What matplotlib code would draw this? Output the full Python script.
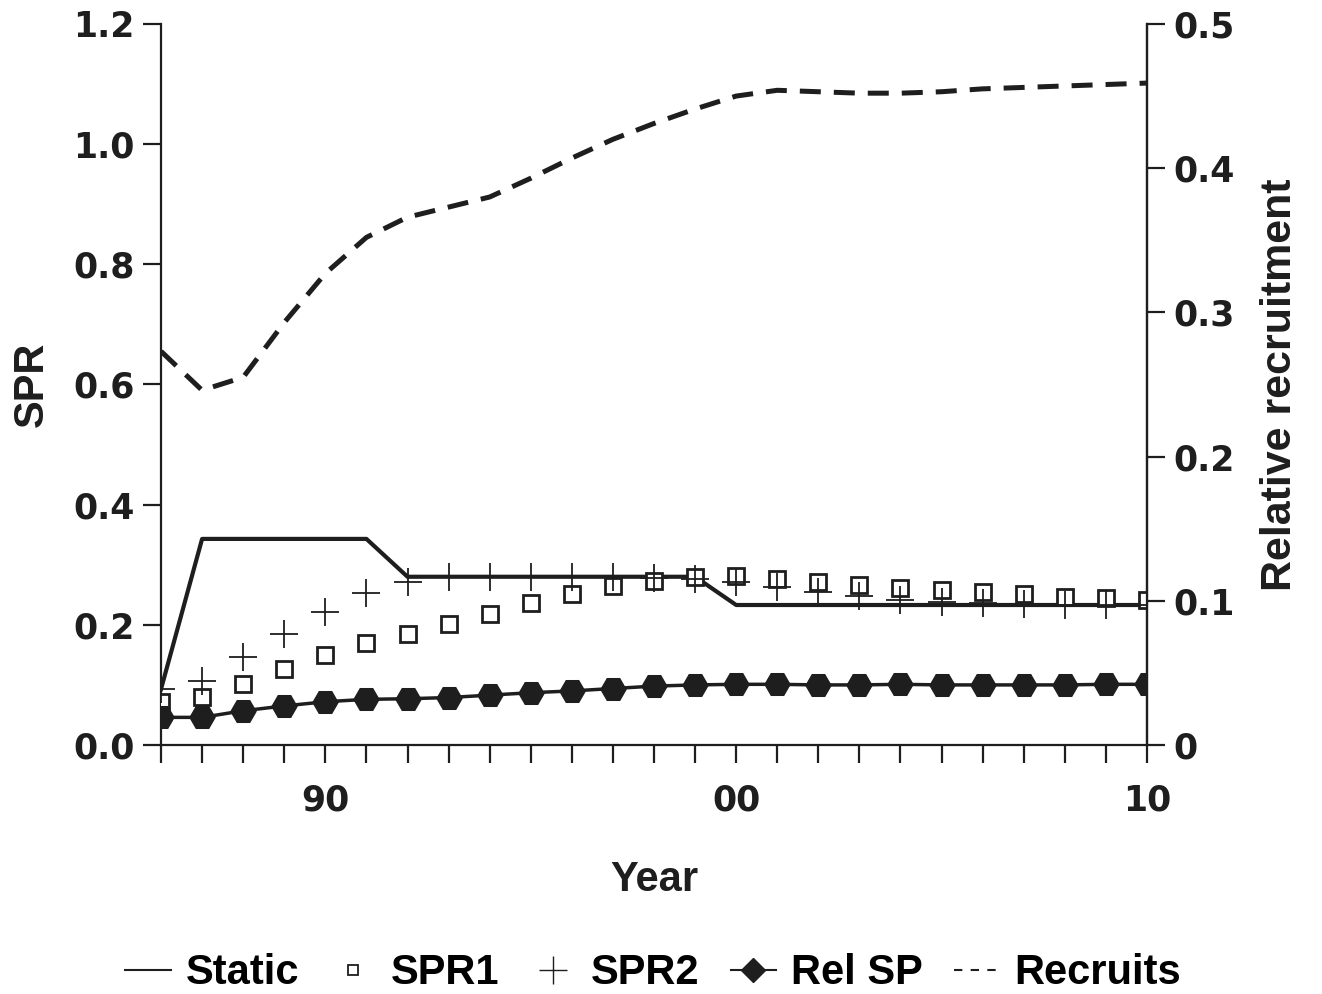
import matplotlib.pyplot as plt
from matplotlib.lines import Line2D

plt.rcParams["font.family"] = ["Liberation Sans", "DejaVu Sans"]
plt.rcParams["font.weight"] = "bold"

years = list(range(1986, 2011))

static = [0.093, 0.343, 0.343, 0.343, 0.343, 0.343,
          0.280, 0.280, 0.280, 0.280, 0.280, 0.280, 0.280, 0.280,
          0.233, 0.233, 0.233, 0.233, 0.233, 0.233, 0.233, 0.233, 0.233, 0.233, 0.233]

spr1 = [0.072, 0.080, 0.102, 0.127, 0.149, 0.169, 0.185, 0.201, 0.218, 0.237,
        0.252, 0.264, 0.273, 0.279, 0.282, 0.276, 0.271, 0.266, 0.262, 0.258,
        0.254, 0.251, 0.246, 0.244, 0.242]

spr2 = [0.093, 0.107, 0.147, 0.185, 0.222, 0.253, 0.272, 0.279, 0.279, 0.279,
        0.279, 0.279, 0.278, 0.277, 0.272, 0.263, 0.255, 0.248, 0.242, 0.238,
        0.236, 0.234, 0.233, 0.233, 0.233]

rel_sp = [0.046, 0.046, 0.057, 0.065, 0.072, 0.076, 0.077, 0.079, 0.083, 0.087,
          0.090, 0.094, 0.098, 0.100, 0.101, 0.101, 0.100, 0.100, 0.101, 0.100,
          0.100, 0.100, 0.100, 0.101, 0.101]

recruits = [0.273, 0.246, 0.255, 0.293, 0.327, 0.352, 0.366, 0.373, 0.380, 0.393,
            0.407, 0.420, 0.431, 0.441, 0.450, 0.454, 0.453, 0.452, 0.452, 0.453,
            0.455, 0.456, 0.457, 0.458, 0.459]

ink = "#1e1e1e"
tick_font = {"family": "DejaVu Sans", "weight": "bold", "size": 25}

fig = plt.figure(figsize=(13.22, 9.94), dpi=100)
ax = fig.add_axes([0.1218, 0.2505, 0.7458, 0.7254])
ax2 = ax.twinx()

ax.plot(years, static, color=ink, lw=3.0, zorder=3)
ax.plot(years, spr1, ls="none", marker="s", ms=11.5, mfc="white", mec=ink, mew=2.0, zorder=4)
ax.plot(years, spr2, ls="none", marker="+", ms=20, mec=ink, mew=1.3, zorder=4)
ax.plot(years, rel_sp, color=ink, lw=2.5, marker="H", ms=18, mfc=ink, mec=ink, zorder=5)
ax2.plot(years, recruits, color=ink, lw=3.6, dashes=(4.2, 2.6))

ax.set_xlim(1986, 2010)
ax.set_ylim(0, 1.2)
ax2.set_ylim(0, 0.5)

ax.set_xticks(years)
ax.set_xticklabels(["90" if y == 1990 else "00" if y == 2000 else "10" if y == 2010 else "" for y in years],
                   fontdict=tick_font)
ax.set_yticks([0, 0.2, 0.4, 0.6, 0.8, 1.0, 1.2])
ax.set_yticklabels(["0.0", "0.2", "0.4", "0.6", "0.8", "1.0", "1.2"], fontdict=tick_font)
ax2.set_yticks([0, 0.1, 0.2, 0.3, 0.4, 0.5])
ax2.set_yticklabels(["0", "0.1", "0.2", "0.3", "0.4", "0.5"], fontdict=tick_font)

for a in (ax, ax2):
    a.spines["top"].set_visible(False)
    for s in a.spines.values():
        s.set_linewidth(1.6)
        s.set_color(ink)
    a.tick_params(length=13, width=1.6, color=ink, labelcolor=ink, pad=6)
ax.tick_params(axis="x", pad=15)
ax2.spines["left"].set_visible(False)
ax2.spines["bottom"].set_visible(False)

ax.set_xlabel("Year", fontsize=30, fontweight="bold", color=ink, labelpad=30)
ax.set_ylabel("SPR", fontsize=30, fontweight="bold", color=ink, labelpad=15)
ax2.set_ylabel("Relative recruitment", fontsize=31, fontweight="bold", color=ink, labelpad=18)

handles = [
    Line2D([], [], color=ink, lw=1.5),
    Line2D([], [], ls="none", marker="s", ms=7, mfc="white", mec=ink, mew=1.3),
    Line2D([], [], ls="none", marker="+", ms=20, mec=ink, mew=1.0),
    Line2D([], [], color=ink, lw=1.5, marker="D", ms=12, mfc=ink, mec=ink),
    Line2D([], [], color=ink, lw=1.5, dashes=(4, 4)),
]
labels = ["Static", "SPR1", "SPR2", "Rel SP", "Recruits"]
fig.legend(handles, labels, loc="center", bbox_to_anchor=(0.494, 0.021), ncol=5,
           frameon=False, fontsize=30, handlelength=1.1, handletextpad=0.35,
           columnspacing=0.75)

fig.savefig("out.png", dpi=100)
